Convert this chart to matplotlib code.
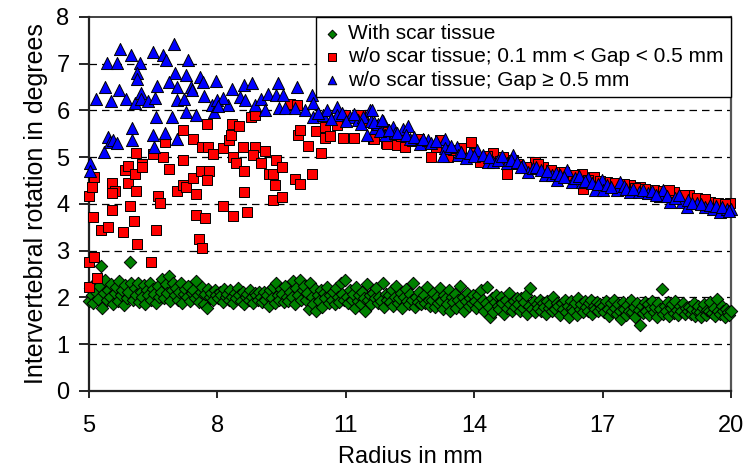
import numpy as np
import matplotlib
matplotlib.use('Agg')
import matplotlib.pyplot as plt

plt.rcParams['font.family'] = ['Liberation Sans', 'DejaVu Sans']

# 有瘢痕组织（绿色菱形）
green_x = [
    5.00, 5.03, 5.06, 5.10, 5.13, 5.17, 5.20, 5.24, 5.28, 5.31,
    5.35, 5.38, 5.42, 5.45, 5.49, 5.52, 5.56, 5.60, 5.63, 5.67,
    5.70, 5.74, 5.78, 5.81, 5.85, 5.88, 5.92, 5.96, 5.99,
    6.03, 6.07, 6.10, 6.14, 6.17, 6.21, 6.25, 6.28, 6.32, 6.35,
    6.39, 6.43, 6.46, 6.50, 6.53, 6.57, 6.61, 6.64, 6.68, 6.71,
    6.75, 6.79, 6.82, 6.86, 6.89, 6.93, 6.97,
    7.00, 7.04, 7.07, 7.11, 7.14, 7.18, 7.22, 7.25, 7.29, 7.32,
    7.36, 7.40, 7.43, 7.47, 7.50, 7.54, 7.58, 7.61, 7.65, 7.68,
    7.72, 7.76, 7.79, 7.83, 7.86, 7.90, 7.94, 7.97,
    8.01, 8.05, 8.08, 8.12, 8.15, 8.19, 8.23, 8.26, 8.30, 8.33,
    8.37, 8.41, 8.44, 8.48, 8.51, 8.55, 8.59, 8.62, 8.66, 8.69,
    8.73, 8.77, 8.80, 8.84, 8.87, 8.91, 8.95, 8.98,
    9.02, 9.05, 9.09, 9.12, 9.16, 9.20, 9.23, 9.27, 9.30, 9.34,
    9.38, 9.41, 9.45, 9.48, 9.52, 9.56, 9.59, 9.63, 9.66, 9.70,
    9.74, 9.77, 9.81, 9.84, 9.88, 9.92, 9.95, 9.99,
    10.02, 10.06, 10.09, 10.13, 10.16, 10.20, 10.24, 10.27, 10.31, 10.34,
    10.38, 10.42, 10.45, 10.49, 10.52, 10.56, 10.60, 10.63, 10.67, 10.70,
    10.74, 10.78, 10.81, 10.85, 10.88, 10.92, 10.96, 10.99,
    11.03, 11.06, 11.10, 11.14, 11.17, 11.21, 11.24, 11.28, 11.32, 11.35,
    11.39, 11.42, 11.46, 11.50, 11.53, 11.57, 11.60, 11.64, 11.68, 11.71,
    11.75, 11.78, 11.82, 11.86, 11.89, 11.93, 11.96,
    12.00, 12.04, 12.07, 12.11, 12.14, 12.18, 12.22, 12.25, 12.29, 12.32,
    12.36, 12.40, 12.43, 12.47, 12.50, 12.54, 12.58, 12.61, 12.65, 12.68,
    12.72, 12.76, 12.79, 12.83, 12.86, 12.90, 12.94, 12.97,
    13.01, 13.04, 13.08, 13.12, 13.15, 13.19, 13.22, 13.26, 13.30, 13.33,
    13.37, 13.40, 13.44, 13.48, 13.51, 13.55, 13.58, 13.62, 13.66, 13.69,
    13.73, 13.76, 13.80, 13.84, 13.87, 13.91, 13.94, 13.98,
    14.02, 14.05, 14.09, 14.12, 14.16, 14.20, 14.23, 14.27, 14.30, 14.34,
    14.38, 14.41, 14.45, 14.48, 14.52, 14.56, 14.59, 14.63, 14.66, 14.70,
    14.74, 14.77, 14.81, 14.84, 14.88, 14.92, 14.95, 14.99,
    15.03, 15.06, 15.10, 15.13, 15.17, 15.21, 15.24, 15.28, 15.31, 15.35,
    15.39, 15.42, 15.46, 15.49, 15.53, 15.57, 15.60, 15.64, 15.67, 15.71,
    15.75, 15.78, 15.82, 15.85, 15.89, 15.93, 15.96,
    16.00, 16.04, 16.07, 16.11, 16.14, 16.18, 16.22, 16.25, 16.29, 16.32,
    16.36, 16.40, 16.43, 16.47, 16.50, 16.54, 16.58, 16.61, 16.65, 16.68,
    16.72, 16.76, 16.79, 16.83, 16.86, 16.90, 16.94, 16.97,
    17.01, 17.04, 17.08, 17.12, 17.15, 17.19, 17.22, 17.26, 17.30, 17.33,
    17.37, 17.40, 17.44, 17.48, 17.51, 17.55, 17.58, 17.62, 17.66, 17.69,
    17.73, 17.76, 17.80, 17.84, 17.87, 17.91, 17.94, 17.98,
    18.02, 18.05, 18.09, 18.12, 18.16, 18.20, 18.23, 18.27, 18.30, 18.34,
    18.38, 18.41, 18.45, 18.48, 18.52, 18.56, 18.59, 18.63, 18.66, 18.70,
    18.74, 18.77, 18.81, 18.84, 18.88, 18.92, 18.95, 18.99,
    19.02, 19.06, 19.09, 19.13, 19.16, 19.20, 19.24, 19.27, 19.31, 19.34,
    19.38, 19.42, 19.45, 19.49, 19.52, 19.56, 19.60, 19.63, 19.67, 19.70,
    19.74, 19.78, 19.81, 19.85, 19.88, 19.92, 19.96, 19.99,
]
green_y = [
    1.92, 2.20, 2.05, 1.88, 2.32, 2.12, 1.97, 2.25, 2.68, 1.78,
    2.10, 2.38, 1.95, 2.15, 2.02, 2.28, 1.86, 2.10, 2.22, 1.92,
    2.35, 2.05, 2.16, 1.84, 2.27, 1.98, 2.12, 2.76, 2.30,
    1.95, 2.20, 2.05, 2.32, 1.90, 2.12, 2.00, 2.26, 1.85, 2.15,
    2.05, 2.30, 1.95, 2.18, 2.08, 1.88, 2.25, 2.02, 2.12, 2.40,
    1.98, 2.28, 2.10, 2.45, 1.92, 2.15, 2.32,
    2.05, 2.20, 1.95, 2.12, 2.30, 1.88, 2.08, 2.18, 2.00, 2.25,
    1.92, 2.10, 2.15, 1.98, 2.35, 2.05, 1.90, 2.12, 2.22, 1.85,
    2.08, 1.78, 2.18, 2.02, 2.10, 1.95, 2.15, 2.05,
    1.98, 2.12, 2.05, 1.90, 2.18, 2.00, 2.08, 1.95, 2.15, 2.02,
    1.88, 2.10, 1.98, 2.20, 2.05, 1.92, 2.12, 1.85, 2.02, 2.08,
    1.95, 2.15, 2.00, 1.88, 2.10, 2.05, 1.95, 2.12,
    2.02, 1.90, 2.12, 1.95, 2.05, 1.82, 2.15, 1.98, 2.22, 1.88,
    2.32, 2.05, 1.95, 2.18, 2.08, 1.90, 2.25, 2.02, 1.92, 2.12,
    2.00, 2.35, 1.85, 2.20, 2.05, 2.38, 1.95, 2.15,
    2.25, 1.95, 2.10, 1.75, 2.30, 2.00, 1.85, 2.18, 1.70, 2.05,
    1.92, 2.15, 1.80, 2.10, 1.98, 2.22, 1.88, 2.05, 1.95, 2.12,
    1.85, 2.20, 2.00, 1.90, 2.32, 2.08, 1.95, 2.38,
    2.02, 1.88, 2.15, 1.95, 2.08, 1.78, 2.22, 1.92, 2.05, 1.85,
    2.12, 1.98, 1.72, 2.28, 1.95, 2.05, 1.85, 2.10, 1.98, 2.20,
    1.88, 2.02, 1.92, 2.32, 1.80, 2.08, 1.95,
    2.05, 1.90, 2.15, 1.82, 2.00, 2.25, 1.88, 1.98, 2.10, 1.78,
    2.02, 2.18, 1.92, 1.85, 2.08, 1.95, 2.30, 1.80, 2.02, 1.90,
    2.12, 1.85, 1.98, 2.05, 1.88, 2.22, 1.95, 1.82,
    1.95, 2.10, 1.80, 2.02, 1.88, 2.20, 1.92, 1.75, 2.05, 1.98,
    1.85, 2.15, 1.70, 2.00, 1.90, 2.08, 1.78, 1.95, 2.25, 1.85,
    2.02, 1.72, 1.92, 2.10, 1.82, 1.98, 1.88, 2.05,
    1.92, 1.78, 2.05, 1.85, 2.15, 1.95, 1.72, 1.88, 2.22, 1.80,
    1.58, 1.98, 1.68, 1.90, 2.05, 1.82, 1.75, 2.00, 1.88, 1.65,
    1.95, 1.78, 2.10, 1.85, 1.72, 1.92, 1.80, 1.98,
    1.85, 1.70, 1.98, 1.78, 1.90, 2.05, 1.65, 1.82, 2.20, 1.75,
    1.92, 1.68, 1.85, 1.78, 1.95, 1.72, 1.88, 1.80, 1.65, 1.92,
    1.78, 1.85, 1.70, 2.00, 1.75, 1.88, 1.82,
    1.62, 1.88, 1.75, 1.95, 1.68, 1.82, 1.58, 1.92, 1.78, 1.70,
    1.88, 1.62, 1.98, 1.75, 1.85, 1.68, 1.92, 1.80, 1.72, 1.88,
    1.95, 1.65, 1.82, 1.75, 1.90, 1.70, 1.85, 1.78,
    1.82, 1.68, 1.92, 1.75, 1.60, 1.88, 1.72, 1.95, 1.78, 1.65,
    1.85, 1.70, 1.55, 1.90, 1.76, 1.62, 1.84, 1.72, 1.95, 1.68,
    1.80, 1.58, 1.88, 1.74, 1.41, 1.82, 1.66, 1.90,
    1.72, 1.85, 1.62, 1.78, 1.92, 1.68, 1.80, 1.58, 1.88, 1.75,
    2.18, 1.65, 1.82, 1.70, 1.90, 1.60, 1.78, 1.85, 1.66, 1.92,
    1.74, 1.62, 1.82, 1.70, 1.88, 1.65, 1.78, 1.72,
    1.80, 1.65, 1.75, 1.88, 1.60, 1.72, 1.82, 1.68, 1.58, 1.78,
    1.85, 1.62, 1.74, 1.70, 1.90, 1.66, 1.78, 1.60, 1.96, 1.72,
    1.64, 1.82, 1.70, 1.58, 1.76, 1.68, 1.62, 1.72,
]

# 无瘢痕组织，0.1 mm < Gap < 0.5 mm（红色方块）
red_x = [
    5.00, 5.06, 5.12, 5.09, 5.00, 5.12, 5.00, 5.18, 5.28, 5.45,
    5.53, 5.61, 5.53, 5.53, 5.80, 5.84, 5.92, 5.90, 6.07, 6.10,
    5.96, 6.04, 6.11, 6.10, 6.25, 6.23, 6.46, 6.49, 6.56, 6.62,
    6.66, 6.74, 6.78, 6.88, 7.06, 7.20, 7.20, 7.20, 7.27, 7.44,
    7.44, 7.50, 7.50, 7.58, 7.63, 7.63, 7.71, 7.61, 7.76, 7.79,
    7.81, 7.76, 7.89, 8.12, 8.12, 8.27, 8.31, 8.33, 8.36, 8.36,
    8.43, 8.51, 8.59, 8.61, 8.61, 8.68, 8.78, 8.88, 8.88, 8.84,
    9.11, 9.02, 9.21, 9.29, 9.35, 9.31, 9.37, 9.50, 9.50, 9.81,
    9.93, 10.20, 9.89, 9.93, 10.12, 10.30, 10.42, 10.51, 10.51, 10.63,
    10.94, 11.18, 9.70, 9.85, 10.79, 10.98, 11.33, 11.64, 11.95, 12.19,
    11.65, 11.96, 12.38, 13.00, 13.20, 13.39, 13.93, 14.13, 14.45, 14.68,
    14.76, 14.91, 15.41, 15.61, 15.93, 16.51, 16.55, 16.79, 17.10, 17.64,
    17.88, 18.19, 18.66, 19.01, 19.51, 19.98, 11.40, 11.70, 11.90, 12.30,
    12.55, 12.70, 12.85, 13.10, 13.50, 13.70, 14.00, 14.30, 14.60, 15.00,
    15.20, 15.50, 15.80, 16.10, 16.30, 16.65, 16.95, 17.30, 17.50, 17.75,
    18.00, 18.40, 18.55, 18.90, 19.20, 19.40, 19.70, 19.85,
]
red_y = [
    4.17, 4.37, 4.58, 3.73, 2.76, 2.87, 2.23, 2.41, 3.45, 3.51,
    4.44, 4.28, 4.23, 3.88, 3.40, 4.73, 4.81, 4.45, 4.65, 4.28,
    3.95, 3.64, 3.15, 5.10, 4.85, 4.80, 2.76, 5.07, 3.44, 4.17,
    4.01, 5.00, 5.33, 4.74, 4.28, 5.58, 4.93, 4.40, 4.37, 5.40,
    4.55, 4.21, 3.76, 3.26, 3.05, 5.22, 3.71, 4.71, 5.71, 5.22,
    4.71, 4.51, 5.07, 5.19, 3.95, 5.37, 5.47, 5.72, 3.74, 5.01,
    4.87, 5.67, 5.22, 4.71, 4.26, 3.83, 5.85, 5.22, 5.90, 5.05,
    5.14, 4.87, 4.64, 4.65, 4.40, 4.08, 4.95, 4.80, 4.15, 4.53,
    4.43, 4.65, 5.47, 5.58, 5.24, 5.55, 5.10, 5.64, 5.42, 5.45,
    5.42, 5.42, 6.14, 6.12, 5.69, 5.90, 5.90, 5.38, 5.30, 5.26,
    5.40, 5.29, 5.22, 5.01, 5.36, 5.01, 5.33, 4.90, 5.08, 5.01,
    4.65, 4.94, 4.90, 4.79, 4.69, 4.65, 4.31, 4.58, 4.48, 4.40,
    4.37, 4.30, 4.26, 4.19, 4.05, 4.01, 5.75, 5.68, 5.60, 5.45,
    5.35, 5.40, 5.30, 5.22, 5.15, 5.20, 5.10, 5.02, 4.92, 4.85,
    4.80, 4.85, 4.72, 4.68, 4.62, 4.52, 4.50, 4.45, 4.43, 4.35,
    4.33, 4.28, 4.30, 4.20, 4.12, 4.10, 4.03, 4.00,
]

# 无瘢痕组织，Gap ≥ 0.5 mm（蓝色三角）
blue_x = [
    5.02, 5.02, 5.16, 5.37, 5.41, 5.66, 5.72, 5.97, 6.18, 6.13,
    6.12, 5.71, 5.51, 5.86, 6.07, 6.21, 6.21, 6.39, 6.50, 6.74,
    6.80, 6.99, 7.32, 7.01, 7.27, 6.88, 7.05, 6.60, 6.54, 7.05,
    7.22, 7.27, 7.38, 7.40, 7.59, 7.67, 7.97, 7.69, 7.50, 7.88,
    7.91, 8.00, 8.24, 8.14, 8.35, 8.53, 8.63, 8.82, 8.65, 8.88,
    9.03, 9.11, 9.19, 9.42, 9.38, 9.54, 9.87, 10.20, 9.45, 9.58,
    9.81, 10.05, 10.24, 10.24, 10.47, 10.55, 10.79, 10.80, 11.10, 11.29,
    11.49, 11.56, 11.68, 11.86, 11.92, 12.11, 12.15, 5.36, 5.45, 5.49,
    5.57, 5.65, 6.00, 6.00, 6.50, 6.52, 6.56, 6.78, 6.93, 7.06,
    8.02, 10.35, 10.65, 10.90, 11.00, 11.20, 11.40, 11.35, 11.60, 11.75,
    11.80, 11.61, 11.65, 11.84, 12.34, 12.46, 12.50, 12.73, 12.93, 13.32,
    13.32, 13.28, 13.59, 13.63, 13.82, 14.06, 14.33, 14.45, 14.76, 14.91,
    15.15, 15.26, 15.38, 15.65, 15.81, 15.93, 16.16, 16.28, 16.51, 16.67,
    16.82, 16.98, 17.02, 17.33, 17.41, 17.64, 17.84, 18.07, 18.35, 18.42,
    18.58, 18.85, 18.97, 19.20, 19.40, 19.59, 19.74, 19.90, 20.00, 12.00,
    12.20, 12.40, 12.60, 12.80, 13.00, 13.10, 13.45, 13.70, 13.90, 14.00,
    14.20, 14.35, 14.55, 14.65, 14.85, 15.00, 15.10, 15.45, 15.55, 15.70,
    15.90, 16.00, 16.10, 16.35, 16.45, 16.60, 16.75, 16.90, 17.10, 17.20,
    17.50, 17.55, 17.70, 17.95, 18.15, 18.25, 18.50, 18.70, 18.78, 19.00,
    19.10, 19.30, 19.50, 19.65, 19.80, 19.95,
]
blue_y = [
    4.87, 4.71, 6.25, 6.51, 7.01, 7.01, 7.31, 7.19, 7.02, 6.80,
    6.67, 6.44, 6.20, 6.24, 6.17, 6.38, 6.24, 6.20, 7.26, 7.19,
    7.09, 7.42, 7.09, 6.80, 6.76, 6.60, 6.51, 6.52, 6.26, 6.22,
    6.24, 5.97, 6.50, 6.44, 6.71, 6.60, 6.63, 6.30, 5.90, 6.12,
    5.97, 6.22, 6.12, 6.26, 6.46, 6.28, 6.55, 6.58, 6.22, 6.12,
    6.24, 6.00, 6.35, 6.58, 6.33, 6.33, 6.50, 6.33, 6.05, 6.05,
    6.05, 6.02, 6.15, 5.87, 5.90, 6.01, 6.07, 5.90, 5.87, 5.80,
    5.47, 6.01, 5.62, 5.78, 5.47, 5.65, 5.51, 5.12, 5.44, 5.33,
    5.37, 5.30, 5.62, 5.37, 5.47, 5.22, 5.87, 5.52, 5.85, 5.38,
    6.10, 5.95, 5.82, 5.95, 5.78, 5.92, 5.85, 5.72, 5.78, 5.70,
    5.55, 6.00, 5.76, 5.79, 5.60, 5.67, 5.39, 5.29, 5.36, 5.39,
    5.19, 5.03, 5.22, 5.05, 4.98, 5.15, 4.90, 4.90, 4.87, 5.05,
    4.83, 4.69, 4.76, 4.62, 4.62, 4.51, 4.72, 4.46, 4.48, 4.55,
    4.30, 4.51, 4.30, 4.30, 4.48, 4.26, 4.26, 4.23, 4.16, 4.30,
    4.05, 4.05, 3.94, 4.01, 3.94, 3.90, 3.83, 3.90, 3.90, 5.58,
    5.52, 5.47, 5.44, 5.40, 5.30, 5.34, 5.25, 5.12, 5.10, 5.02,
    5.05, 5.00, 4.95, 5.02, 4.93, 4.90, 4.78, 4.80, 4.72, 4.70,
    4.66, 4.62, 4.58, 4.56, 4.60, 4.50, 4.45, 4.42, 4.40, 4.36,
    4.38, 4.31, 4.33, 4.30, 4.28, 4.20, 4.18, 4.13, 4.20, 4.08,
    4.03, 4.00, 3.98, 3.96, 3.93, 3.85,
]

x_ticks = [5, 8, 11, 14, 17, 20]
y_ticks = [0, 1, 2, 3, 4, 5, 6, 7, 8]
labels = ['With scar tissue',
          'w/o scar tissue; 0.1 mm < Gap < 0.5 mm',
          'w/o scar tissue; Gap ≥ 0.5 mm']

fig = plt.figure(figsize=(7.46, 4.71), dpi=100)
ax = fig.add_axes([0.1193, 0.1699, 0.8606, 0.7941])

ax.scatter(green_x, green_y, marker='D', s=40, c='#008000', edgecolors='black',
           linewidths=0.7, label=labels[0], clip_on=False, zorder=3)
ax.scatter(red_x, red_y, marker='s', s=58, c='#FF0000', edgecolors='black',
           linewidths=0.7, label=labels[1], clip_on=False, zorder=4)
ax.scatter(blue_x, blue_y, marker='^', s=76, c='#0000FF', edgecolors='black',
           linewidths=0.7, label=labels[2], clip_on=False, zorder=5)

ax.set_xlim(5, 20)
ax.set_ylim(0, 8)
ax.set_xticks(x_ticks)
ax.set_yticks(y_ticks)
ax.tick_params(axis='x', labelsize=17, length=5, width=1.2, pad=12, direction='out')
ax.tick_params(axis='y', labelsize=17, length=7, width=1.2, pad=7, direction='out')

# 虚线网格
for yv in y_ticks[1:-1]:
    ax.axhline(yv, color='black', lw=0.9, ls=(0, (6, 4)), zorder=1)

for side in ['left', 'bottom']:
    ax.spines[side].set_color('#222222')
    ax.spines[side].set_linewidth(1.6)
ax.spines['top'].set_color('#222222')
ax.spines['top'].set_linewidth(1.2)
ax.spines['right'].set_color('#555555')
ax.spines['right'].set_linewidth(1.6)

ax.set_xlabel('Radius in mm', fontsize=17, labelpad=7)
ax.set_ylabel('Intervertebral rotation in degrees', fontsize=18, labelpad=6)

leg = ax.legend(loc='upper right', borderaxespad=0, fontsize=15, frameon=True,
                fancybox=False, framealpha=1, edgecolor='black', markerscale=0.7,
                handlelength=0.8, handletextpad=0.4, labelspacing=0.2,
                borderpad=0.35, scatterpoints=1)
leg.get_frame().set_linewidth(1.0)
leg.set_zorder(10)

fig.savefig('out.png', dpi=100)
